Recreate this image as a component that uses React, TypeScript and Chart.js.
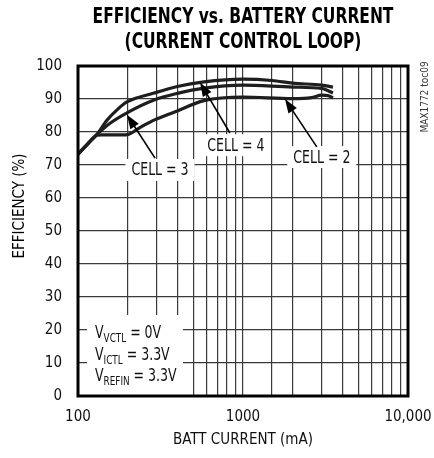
import React, { useEffect, useRef } from 'react';
import { Chart, registerables } from 'chart.js';

Chart.register(...registerables);

// ---- data ----
const currentCell4 = [100, 115, 130, 150, 175, 198, 289, 400, 580, 1000, 1500, 2000, 3000, 3510];
const effCell4 = [73.3, 76.5, 79.2, 83.6, 87, 89.1, 91.8, 93.8, 95.2, 96, 95.6, 94.8, 94.2, 93.6];

const currentCell3 = [100, 115, 130, 150, 198, 289, 400, 580, 1000, 2000, 3000, 3510];
const effCell3 = [73.3, 76.5, 79.2, 82, 85.8, 89.7, 91.7, 93.3, 94.2, 93.6, 93.2, 91.8];

const currentCell2 = [100, 115, 130, 140, 195, 240, 289, 382, 580, 1000, 2000, 2600, 3000, 3300, 3510];
const effCell2 = [73.3, 76.5, 79, 79.1, 79.1, 81.5, 83.6, 86, 89.5, 90.6, 90.1, 90.4, 91.2, 91, 90.3];

const xTickValues = [100, 1000, 10000];
const xTickLabels = ['100', '1000', '10,000'];

// annotation labels: text centre, arrow tail, arrow tip (data coordinates)
const cellLabels = ['CELL = 3', 'CELL = 4', 'CELL = 2'];
const labelCurrent = [314, 905, 3004];
const labelEff = [68.5, 76, 72.4];
const tailCurrent = [293, 833, 2800];
const tailEff = [72.1, 79.7, 75.5];
const tipCurrent = [198, 549, 1795];
const tipEff = [85.2, 95.0, 90];

const condMain = ['V', 'V', 'V'];
const condSub = ['VCTL', 'ICTL', 'REFIN'];
const condRest = [' = 0V', ' = 3.3V', ' = 3.3V'];

const NARROW = '"Liberation Sans Narrow", "DejaVu Sans Condensed", "Liberation Sans", sans-serif';
const SQ = 0.82; // horizontal compression for condensed look

const toPts = (xs: number[], ys: number[]) => xs.map((v, i) => ({ x: v, y: ys[i] }));

function textSq(ctx: any, s: string, x: number, y: number, sx = SQ) {
  ctx.save();
  ctx.translate(x, y);
  ctx.scale(sx, 1);
  ctx.fillText(s, 0, 0);
  ctx.restore();
}

const drawPlugin = {
  id: 'customDraw',
  afterDatasetsDraw(chart: any) {
    const { ctx, scales, chartArea } = chart;
    const x = scales.x;
    const y = scales.y;
    ctx.save();

    // cell labels with arrows
    ctx.font = `17px ${NARROW}`;
    cellLabels.forEach((lab, i) => {
      const cx = x.getPixelForValue(labelCurrent[i]);
      const cy = y.getPixelForValue(labelEff[i]);
      const w = ctx.measureText(lab).width * SQ;
      ctx.fillStyle = '#fff';
      ctx.fillRect(cx - w / 2 - 6, cy - 11, w + 12, 22);

      const x0 = x.getPixelForValue(tailCurrent[i]);
      const y0 = y.getPixelForValue(tailEff[i]);
      const x1 = x.getPixelForValue(tipCurrent[i]);
      const y1 = y.getPixelForValue(tipEff[i]);
      const ang = Math.atan2(y1 - y0, x1 - x0);
      const hl = 14, hw = 5;
      ctx.strokeStyle = '#000';
      ctx.lineWidth = 1.6;
      ctx.beginPath();
      ctx.moveTo(x0, y0);
      ctx.lineTo(x1 - Math.cos(ang) * hl * 0.8, y1 - Math.sin(ang) * hl * 0.8);
      ctx.stroke();
      ctx.fillStyle = '#000';
      ctx.beginPath();
      ctx.moveTo(x1, y1);
      ctx.lineTo(x1 - Math.cos(ang) * hl - Math.sin(ang) * hw, y1 - Math.sin(ang) * hl + Math.cos(ang) * hw);
      ctx.lineTo(x1 - Math.cos(ang) * hl + Math.sin(ang) * hw, y1 - Math.sin(ang) * hl - Math.cos(ang) * hw);
      ctx.closePath();
      ctx.fill();

      ctx.fillStyle = '#111';
      ctx.textAlign = 'center';
      ctx.textBaseline = 'middle';
      textSq(ctx, lab, cx, cy + 1);
    });

    // conditions box
    const bx = chartArea.left + 9;
    const by = chartArea.bottom - 81;
    ctx.fillStyle = '#fff';
    ctx.fillRect(bx, by, 96, 81);
    ctx.fillStyle = '#111';
    ctx.textAlign = 'left';
    ctx.textBaseline = 'alphabetic';
    condMain.forEach((m, i) => {
      const base = by + 23 + i * 21.5;
      let px = bx + 8;
      ctx.font = `17px ${NARROW}`;
      textSq(ctx, m, px, base);
      px += ctx.measureText(m).width * SQ;
      ctx.font = `12px ${NARROW}`;
      textSq(ctx, condSub[i], px, base + 4);
      px += ctx.measureText(condSub[i]).width * SQ;
      ctx.font = `17px ${NARROW}`;
      textSq(ctx, condRest[i], px, base);
    });
    ctx.restore();
  },
  afterDraw(chart: any) {
    const { ctx, chartArea } = chart;
    ctx.save();
    // frame
    ctx.strokeStyle = '#000';
    ctx.lineWidth = 3;
    ctx.strokeRect(chartArea.left, chartArea.top, chartArea.right - chartArea.left, chartArea.bottom - chartArea.top);

    // title
    const cx = (chartArea.left + chartArea.right) / 2;
    ctx.fillStyle = '#000';
    ctx.textAlign = 'center';
    ctx.textBaseline = 'alphabetic';
    ctx.font = `bold 21px ${NARROW}`;
    textSq(ctx, 'EFFICIENCY vs. BATTERY CURRENT', cx, 23, 0.82);
    textSq(ctx, '(CURRENT CONTROL LOOP)', cx, 48, 0.82);

    // y-axis title
    ctx.font = `15px ${NARROW}`;
    ctx.translate(20, 206);
    ctx.rotate(-Math.PI / 2);
    ctx.textBaseline = 'middle';
    ctx.fillText('EFFICIENCY (%)', 0, 0);
    ctx.restore();

    // side code
    ctx.save();
    ctx.font = `10px ${NARROW}`;
    ctx.fillStyle = '#333';
    ctx.translate(425, 97);
    ctx.rotate(-Math.PI / 2);
    ctx.textAlign = 'center';
    ctx.textBaseline = 'middle';
    ctx.fillText('MAX1772 toc09', 0, 0);
    ctx.restore();
  },
};

export default function App() {
  const ref = useRef<HTMLCanvasElement | null>(null);
  useEffect(() => {
    document.body.style.margin = '0';
    const lineDs = (label: string, xs: number[], ys: number[]) => ({
      label,
      data: toPts(xs, ys),
      borderColor: '#1e1e1e',
      borderWidth: 3.2,
      pointRadius: 0,
      fill: false,
      cubicInterpolationMode: 'monotone' as const,
    });
    const chart = new Chart(ref.current as HTMLCanvasElement, {
      type: 'line',
      data: {
        datasets: [
          lineDs('CELL = 4', currentCell4, effCell4),
          lineDs('CELL = 3', currentCell3, effCell3),
          lineDs('CELL = 2', currentCell2, effCell2),
        ],
      },
      options: {
        animation: false,
        responsive: false,
        devicePixelRatio: 1,
        layout: { padding: { left: 0, top: 66, right: 26, bottom: 0 } },
        plugins: { legend: { display: false }, title: { display: false }, tooltip: { enabled: false } },
        scales: {
          x: {
            type: 'logarithmic',
            min: 100,
            max: 10000,
            afterFit: (s: any) => { s.height = 62; s.paddingLeft = 0; s.paddingRight = 0; },
            grid: { color: '#3a3a3a', lineWidth: 1.2, drawTicks: false },
            border: { display: false },
            ticks: {
              autoSkip: false,
              maxRotation: 0,
              padding: 12,
              color: '#111',
              font: { family: NARROW, size: 15 },
              callback: (v: any) => {
                const idx = xTickValues.findIndex((t) => Math.abs(t - Number(v)) < 1e-6);
                return idx >= 0 ? xTickLabels[idx] : '';
              },
            },
            title: {
              display: true,
              text: 'BATT CURRENT (mA)',
              color: '#111',
              font: { family: NARROW, size: 15 },
              padding: { top: 0, bottom: 9 },
            },
          },
          y: {
            min: 0,
            max: 100,
            afterFit: (s: any) => { s.width = 78; s.paddingTop = 0; s.paddingBottom = 0; },
            grid: { color: '#3a3a3a', lineWidth: 1.2, drawTicks: false },
            border: { display: false },
            ticks: {
              stepSize: 10,
              padding: 16,
              color: '#111',
              font: { family: NARROW, size: 15 },
            },
          },
        },
      },
      plugins: [drawPlugin],
    });
    return () => chart.destroy();
  }, []);
  return <canvas ref={ref} width={434} height={458} style={{ display: 'block', width: 434, height: 458 }} />;
}
